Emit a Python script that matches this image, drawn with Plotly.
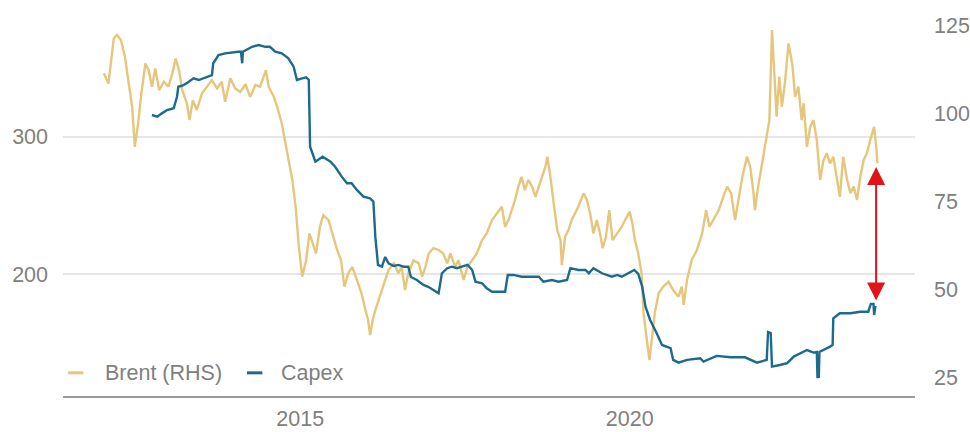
import plotly.graph_objects as go

# Brent crude, USD/bbl (right-hand scale), by decimal year
brent_year = [
    2012.02, 2012.09, 2012.17, 2012.22, 2012.28, 2012.34, 2012.39, 2012.45, 2012.49, 2012.54,
    2012.59, 2012.65, 2012.70, 2012.75, 2012.80, 2012.86, 2012.93, 2013.00, 2013.06, 2013.11,
    2013.16, 2013.21, 2013.28, 2013.32, 2013.37, 2013.43, 2013.51, 2013.58, 2013.66, 2013.74,
    2013.81, 2013.86, 2013.94, 2014.01, 2014.09, 2014.17, 2014.24, 2014.32, 2014.39, 2014.48,
    2014.52, 2014.60, 2014.65, 2014.72, 2014.77, 2014.82, 2014.88, 2014.93, 2014.98, 2015.03,
    2015.09, 2015.14, 2015.19, 2015.24, 2015.30, 2015.35, 2015.43, 2015.49, 2015.56, 2015.62,
    2015.67, 2015.73, 2015.79, 2015.86, 2015.93, 2015.99, 2016.03, 2016.06, 2016.10, 2016.14,
    2016.19, 2016.26, 2016.34, 2016.42, 2016.49, 2016.54, 2016.59, 2016.64, 2016.72, 2016.80,
    2016.85, 2016.90, 2016.95, 2017.02, 2017.10, 2017.17, 2017.23, 2017.28, 2017.35, 2017.40,
    2017.48, 2017.54, 2017.61, 2017.68, 2017.76, 2017.83, 2017.91, 2017.98, 2018.06, 2018.11,
    2018.16, 2018.21, 2018.26, 2018.31, 2018.36, 2018.41, 2018.46, 2018.52, 2018.57, 2018.62,
    2018.67, 2018.72, 2018.75, 2018.79, 2018.84, 2018.90, 2018.95, 2018.97, 2019.02, 2019.07,
    2019.12, 2019.17, 2019.22, 2019.30, 2019.35, 2019.40, 2019.45, 2019.50, 2019.55, 2019.59,
    2019.64, 2019.69, 2019.74, 2019.81, 2019.88, 2019.93, 2020.00, 2020.04, 2020.08, 2020.13,
    2020.18, 2020.21, 2020.26, 2020.30, 2020.34, 2020.38, 2020.44, 2020.51, 2020.59, 2020.66,
    2020.74, 2020.79, 2020.82, 2020.87, 2020.94, 2021.02, 2021.10, 2021.16, 2021.21, 2021.27,
    2021.35, 2021.42, 2021.48, 2021.54, 2021.60, 2021.65, 2021.71, 2021.78, 2021.83, 2021.88,
    2021.90, 2021.95, 2022.01, 2022.07, 2022.12, 2022.16, 2022.20, 2022.23, 2022.27, 2022.31,
    2022.36, 2022.41, 2022.47, 2022.51, 2022.56, 2022.61, 2022.64, 2022.69, 2022.74, 2022.79,
    2022.84, 2022.89, 2022.94, 2022.99, 2023.04, 2023.09, 2023.14, 2023.19, 2023.24, 2023.30,
    2023.35, 2023.40, 2023.45, 2023.50, 2023.55, 2023.60, 2023.65, 2023.71, 2023.75, 2023.76,
]
brent_usd = [
    111.3, 108.4, 121.2, 122.2, 120.7, 116.0, 109.4, 101.8, 90.4, 97.1,
    105.6, 114.1, 112.2, 107.5, 112.7, 106.5, 108.9, 107.5, 111.3, 115.5,
    112.2, 106.5, 102.8, 98.0, 103.7, 100.9, 105.6, 107.5, 109.4, 107.0,
    108.9, 103.2, 109.9, 107.1, 106.0, 108.2, 104.6, 108.0, 107.5, 112.2,
    107.5, 104.6, 101.8, 97.1, 92.3, 86.6, 81.0, 73.4, 62.0, 53.5,
    58.2, 65.8, 63.0, 60.1, 67.7, 71.0, 69.6, 65.8, 61.1, 58.2,
    50.7, 54.5, 56.3, 52.6, 48.8, 44.0, 41.2, 36.9, 41.2, 44.0,
    46.9, 50.6, 55.4, 57.3, 54.5, 56.3, 49.7, 54.5, 58.2, 57.3,
    53.5, 56.3, 60.1, 61.6, 61.1, 60.1, 57.3, 60.1, 56.3, 58.2,
    52.6, 56.3, 58.2, 60.1, 63.9, 65.8, 69.6, 71.5, 73.4, 67.7,
    69.6, 72.4, 75.3, 79.1, 81.9, 78.1, 81.0, 79.1, 76.2, 79.1,
    81.9, 84.7, 87.6, 82.9, 75.3, 66.8, 63.9, 56.8, 64.9, 66.8,
    69.6, 71.5, 73.4, 77.2, 75.3, 71.5, 65.8, 69.6, 65.8, 61.6,
    64.9, 72.4, 63.9, 65.8, 67.7, 69.6, 72.0, 68.7, 63.9, 60.1,
    54.5, 43.1, 35.5, 29.8, 36.4, 43.1, 48.8, 50.7, 52.1, 49.7,
    47.8, 50.7, 45.5, 52.6, 58.2, 61.1, 65.8, 72.4, 67.7, 69.6,
    72.4, 76.2, 79.1, 77.2, 69.6, 75.3, 81.9, 87.6, 84.7, 77.2,
    72.4, 79.1, 85.7, 91.4, 98.0, 123.6, 107.5, 99.0, 110.3, 101.8,
    109.4, 119.8, 113.6, 104.6, 107.5, 98.0, 102.8, 90.4, 96.1, 98.0,
    92.3, 81.0, 86.6, 88.6, 85.7, 87.6, 81.9, 76.2, 87.6, 81.0,
    77.2, 79.1, 75.3, 81.9, 86.6, 88.6, 92.3, 96.1, 88.6, 85.7,
]

# Capex (left-hand scale), by decimal year
capex_year = [
    2012.75, 2012.83, 2012.90, 2012.98, 2013.08, 2013.13, 2013.15, 2013.23, 2013.31, 2013.38,
    2013.46, 2013.53, 2013.61, 2013.66, 2013.68, 2013.76, 2013.86, 2013.96, 2014.06, 2014.10,
    2014.12, 2014.13, 2014.17, 2014.27, 2014.37, 2014.47, 2014.54, 2014.62, 2014.72, 2014.82,
    2014.90, 2014.95, 2015.03, 2015.09, 2015.13, 2015.15, 2015.23, 2015.34, 2015.46, 2015.53,
    2015.63, 2015.71, 2015.78, 2015.86, 2015.96, 2016.06, 2016.11, 2016.14, 2016.18, 2016.24,
    2016.29, 2016.34, 2016.42, 2016.49, 2016.57, 2016.64, 2016.68, 2016.77, 2016.87, 2016.95,
    2017.02, 2017.10, 2017.15, 2017.23, 2017.30, 2017.38, 2017.45, 2017.54, 2017.61, 2017.66,
    2017.76, 2017.83, 2017.91, 2018.01, 2018.11, 2018.15, 2018.24, 2018.36, 2018.46, 2018.62,
    2018.69, 2018.82, 2018.92, 2019.05, 2019.10, 2019.22, 2019.33, 2019.38, 2019.45, 2019.58,
    2019.73, 2019.81, 2019.88, 2019.98, 2020.07, 2020.13, 2020.19, 2020.24, 2020.31, 2020.41,
    2020.49, 2020.62, 2020.66, 2020.74, 2020.87, 2021.07, 2021.12, 2021.32, 2021.53, 2021.75,
    2021.93, 2022.08, 2022.10, 2022.14, 2022.16, 2022.28, 2022.39, 2022.49, 2022.61, 2022.69,
    2022.79, 2022.84, 2022.85, 2022.86, 2022.87, 2022.88, 2023.04, 2023.08, 2023.09, 2023.19,
    2023.35, 2023.50, 2023.62, 2023.66, 2023.70, 2023.71, 2023.73,
]
capex_bn = [
    315.8, 314.6, 317.0, 319.4, 320.7, 329.1, 336.4, 337.6, 340.1, 342.5,
    341.3, 342.5, 343.7, 344.9, 353.5, 359.5, 360.7, 361.5, 361.9, 361.9,
    353.5, 361.9, 363.1, 365.5, 366.8, 365.5, 365.5, 361.9, 360.7, 357.1,
    351.0, 341.3, 342.5, 343.3, 341.3, 292.7, 281.8, 285.4, 281.8, 278.1,
    270.9, 266.1, 266.1, 261.2, 256.3, 255.1, 252.7, 227.2, 206.6, 205.3,
    212.4, 207.8, 205.8, 206.6, 205.3, 205.3, 197.8, 195.6, 192.0, 190.5,
    188.3, 185.9, 200.5, 204.2, 205.3, 204.2, 205.3, 206.6, 202.9, 194.4,
    193.2, 189.6, 187.1, 187.1, 187.1, 199.3, 199.3, 198.0, 198.0, 198.0,
    194.4, 195.6, 194.4, 195.6, 204.2, 202.9, 202.9, 200.5, 204.2, 200.5,
    198.0, 199.3, 198.0, 200.5, 202.9, 200.0, 190.8, 176.2, 166.5, 156.8,
    148.3, 145.9, 137.4, 135.4, 137.4, 138.6, 136.1, 140.3, 139.3, 139.3,
    135.4, 137.4, 157.8, 157.0, 132.5, 133.7, 135.0, 139.8, 142.7, 144.6,
    142.7, 143.2, 124.0, 138.8, 124.3, 143.2, 147.1, 148.3, 167.7, 171.4,
    171.4, 172.5, 172.5, 178.2, 178.2, 170.1, 176.7,
]

x_ticks = [2015, 2020]
x_tick_labels = ["2015", "2020"]
capex_ticks = [200, 300]
brent_ticks = [25, 50, 75, 100, 125]

# gap marker between the latest Brent and Capex readings
gap_year = 2023.74
gap_brent = 84.7

BRENT_COLOR = "#E6C67C"
CAPEX_COLOR = "#1D6A8F"
ARROW_COLOR = "#E01418"
TEXT_COLOR = "#808080"
FONT = "Liberation Sans, Arial, sans-serif"
FONT_SIZE = 21.5

fig = go.Figure()
fig.add_trace(go.Scatter(
    x=brent_year, y=brent_usd, name="Brent (RHS)", yaxis="y",
    mode="lines", line=dict(color=BRENT_COLOR, width=2.4), showlegend=False,
))
fig.add_trace(go.Scatter(
    x=capex_year, y=capex_bn, name="Capex", yaxis="y2",
    mode="lines", line=dict(color=CAPEX_COLOR, width=2.4), showlegend=False,
))

tickfont = dict(family=FONT, size=FONT_SIZE, color=TEXT_COLOR)

fig.update_layout(
    width=970, height=432,
    margin=dict(l=63, r=55, t=10, b=36, autoexpand=False),
    paper_bgcolor="white", plot_bgcolor="white",
    font=dict(family=FONT, color=TEXT_COLOR),
    xaxis=dict(
        range=[2011.40, 2024.33], tickvals=x_ticks, ticktext=x_tick_labels,
        showgrid=False, zeroline=False, showline=True, linecolor="#9A9A9A", linewidth=2,
        ticks="", tickfont=tickfont, ticklabelstandoff=2,
    ),
    yaxis=dict(
        side="right", range=[19.6, 129.3], tickvals=brent_ticks,
        showgrid=False, zeroline=False, showline=False, ticks="",
        tickfont=tickfont, ticklabelstandoff=18,
    ),
    yaxis2=dict(
        overlaying="y", side="left", range=[111.1, 392.3], tickvals=capex_ticks,
        showgrid=True, gridcolor="#E6E6E6", gridwidth=1.5,
        zeroline=False, showline=False, ticks="",
        tickfont=tickfont, ticklabelstandoff=14,
    ),
)

# legend drawn as short line swatches with labels, bottom-left inside the plot
legend_y = 0.06
legend_items = [
    ("Brent (RHS)", BRENT_COLOR, 0.006, 0.047),
    ("Capex", CAPEX_COLOR, 0.216, 0.254),
]
for label, color, sx, tx in legend_items:
    fig.add_shape(type="line", xref="paper", yref="paper",
                  x0=sx, x1=sx + 0.018, y0=legend_y, y1=legend_y,
                  line=dict(color=color, width=3))
    fig.add_annotation(xref="paper", yref="paper", x=tx, y=legend_y,
                       xanchor="left", yanchor="middle", showarrow=False,
                       text=label, font=dict(family=FONT, size=FONT_SIZE, color=TEXT_COLOR))

# double-headed arrow marking the gap
fig.add_annotation(
    x=gap_year, y=gap_brent, xref="x", yref="y",
    ax=0, ay=135, axref="pixel", ayref="pixel",
    text="", showarrow=True, arrowside="end+start",
    arrowhead=2, startarrowhead=2, arrowsize=1.8, startarrowsize=1.8,
    arrowwidth=2, arrowcolor=ARROW_COLOR,
)

fig.write_html("out.html")
